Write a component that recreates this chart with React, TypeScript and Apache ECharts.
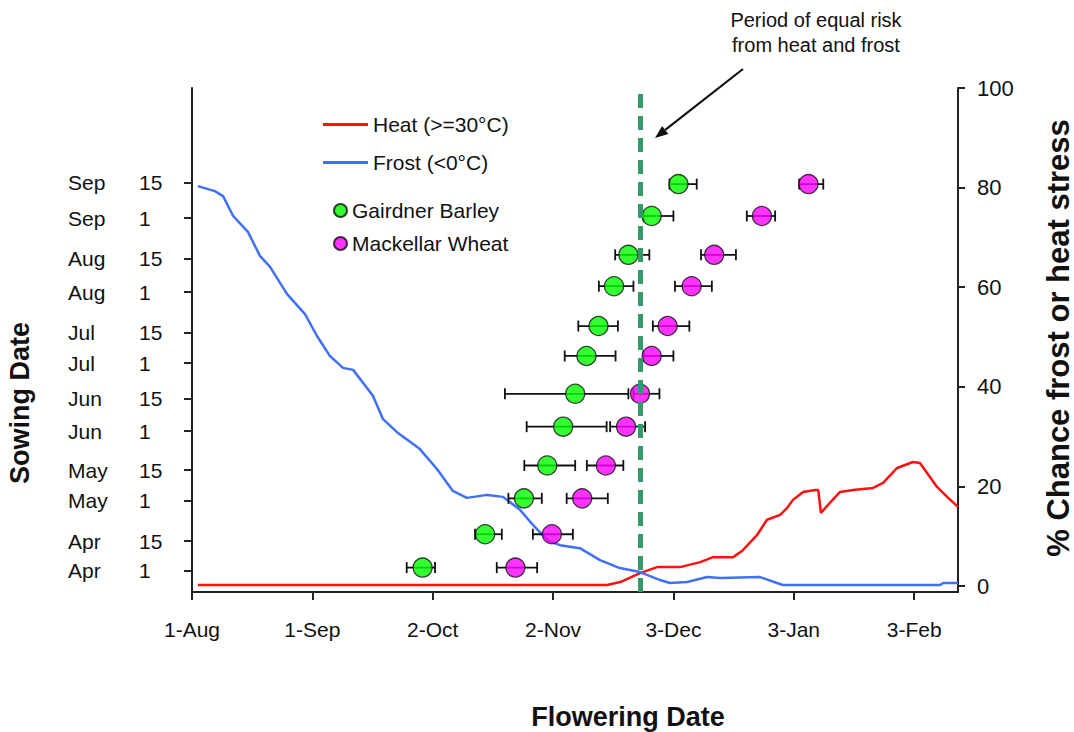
import React, { useEffect, useRef } from "react";
import * as echarts from "echarts";

// ---- x axis (days after 1-Aug) ----
const xTickDays = [0, 31, 62, 93, 124, 155, 186];
const xTickLabels = ["1-Aug", "1-Sep", "2-Oct", "2-Nov", "3-Dec", "3-Jan", "3-Feb"];
const xMaxDay = 197.3;

// ---- left axis: sowing date ticks ----
const sowingMonths = ["Apr", "Apr", "May", "May", "Jun", "Jun", "Jul", "Jul", "Aug", "Aug", "Sep", "Sep"];
const sowingDays = ["1", "15", "1", "15", "1", "15", "1", "15", "1", "15", "1", "15"];
const sowingTicks = [4.2, 10.1, 18.1, 24.2, 31.9, 38.3, 45.4, 51.4, 59.5, 66.1, 74.2, 81.2];

// ---- row position of each sowing date on the right (%) scale ----
const sowingRows = [3.7, 10.4, 17.6, 24.2, 32.0, 38.6, 46.2, 52.2, 60.2, 66.5, 74.3, 80.7];

// ---- flowering dates (days after 1-Aug) ----
const barley = [59.4, 75.5, 85.5, 91.5, 95.6, 98.7, 101.6, 104.7, 108.7, 112.4, 118.4, 125.3];
const barleyLo = [55.3, 72.9, 81.5, 85.6, 86.2, 80.6, 96.0, 99.5, 104.8, 109.0, 116.3, 123.0];
const barleyHi = [62.6, 79.8, 90.1, 98.7, 106.8, 112.4, 109.1, 109.7, 113.7, 117.8, 124.0, 130.0];
const wheat = [83.3, 92.7, 100.5, 106.6, 111.8, 115.4, 118.4, 122.5, 128.7, 134.5, 146.8, 158.8];
const wheatLo = [78.5, 87.8, 96.5, 101.7, 107.7, 113.7, 116.3, 118.7, 124.4, 131.1, 142.9, 156.4];
const wheatHi = [88.9, 98.1, 107.1, 111.1, 116.7, 120.4, 124.0, 128.1, 133.9, 140.1, 150.2, 162.6];

// ---- risk curves ----
const frostDay = [1.5, 5.9, 8.0, 10.6, 14.4, 17.5, 20.1, 24.5, 29.1, 32.2, 35.5, 38.9, 41.5, 46.6, 49.2, 52.8, 58.7, 63.1, 67.2, 70.8, 76.0, 80.1, 84.5, 87.0, 89.6, 92.0, 94.8, 99.9, 105.1, 110.2, 115.4, 120.6, 123.1, 127.5, 132.7, 136.0, 146.3, 150.7, 152.2, 192.7, 193.5, 197.3];
const frostPct = [80.3, 79.3, 78.3, 74.3, 71.1, 66.3, 64.1, 58.6, 54.6, 50.2, 46.2, 43.8, 43.4, 38.2, 33.5, 30.9, 27.5, 23.5, 19.1, 17.7, 18.3, 17.9, 15.3, 13.0, 10.8, 9.0, 8.2, 7.6, 5.2, 3.6, 2.8, 1.2, 0.6, 0.8, 1.8, 1.6, 1.8, 0.6, 0.2, 0.2, 0.6, 0.6];
const heatDay = [1.5, 106.9, 110.3, 115.4, 119.8, 125.7, 130.9, 134.2, 139.4, 141.9, 145.5, 148.1, 151.5, 153.3, 154.8, 157.4, 160.5, 161.3, 162.0, 164.3, 166.9, 170.3, 175.4, 178.0, 181.6, 185.7, 187.5, 191.9, 194.5, 197.3];
const heatPct = [0.2, 0.2, 0.8, 2.6, 3.8, 3.8, 4.8, 5.8, 5.8, 7.2, 10.2, 13.3, 14.3, 15.7, 17.3, 18.9, 19.3, 19.3, 14.7, 16.7, 18.9, 19.3, 19.7, 20.7, 23.7, 24.9, 24.7, 19.9, 17.9, 15.9];

const rightTicks = [0, 20, 40, 60, 80, 100];
const equalRiskDay = 115.4;

const FONT = "'Liberation Sans', Arial, sans-serif";
const INK = "#111";

function errorBarRender(_params: any, api: any) {
  const y = api.value(2);
  const lo = api.coord([api.value(0), y]);
  const hi = api.coord([api.value(1), y]);
  const h = 5.5;
  const style = { stroke: INK, lineWidth: 1.8 };
  return {
    type: "group",
    children: [
      { type: "line", shape: { x1: lo[0], y1: lo[1], x2: hi[0], y2: hi[1] }, style },
      { type: "line", shape: { x1: lo[0], y1: lo[1] - h, x2: lo[0], y2: lo[1] + h }, style },
      { type: "line", shape: { x1: hi[0], y1: hi[1] - h, x2: hi[0], y2: hi[1] + h }, style },
    ],
  };
}

function nearestIndex(arr: number[], v: number) {
  let best = 0;
  for (let i = 1; i < arr.length; i++) if (Math.abs(arr[i] - v) < Math.abs(arr[best] - v)) best = i;
  return best;
}

// arrow head geometry
const arrowStart = [743, 69];
const arrowTip = [655, 138];
function arrowHead() {
  const dx = arrowTip[0] - arrowStart[0];
  const dy = arrowTip[1] - arrowStart[1];
  const len = Math.sqrt(dx * dx + dy * dy);
  const ux = dx / len, uy = dy / len;
  const bx = arrowTip[0] - ux * 13, by = arrowTip[1] - uy * 13;
  const px = -uy * 5, py = ux * 5;
  return [
    [arrowTip[0], arrowTip[1]],
    [bx + px, by + py],
    [bx - px, by - py],
  ];
}

export default function App() {
  const ref = useRef<HTMLDivElement>(null);
  useEffect(() => {
    const chart = echarts.init(ref.current!, null, { renderer: "svg" });
    const head = arrowHead();
    const option: any = {
      animation: false,
      backgroundColor: "#fff",
      textStyle: { fontFamily: FONT, color: INK },
      grid: { left: 192, right: 116, top: 88, bottom: 140, containLabel: false },
      legend: [
        {
          data: ["Heat (>=30°C)", "Frost (<0°C)"],
          orient: "vertical",
          left: 323,
          top: 114,
          padding: 0,
          icon: "rect",
          itemWidth: 45,
          itemHeight: 3,
          itemGap: 17,
          selectedMode: false,
          textStyle: { fontFamily: FONT, fontSize: 21, color: INK },
        },
        {
          data: ["Gairdner Barley", "Mackellar Wheat"],
          orient: "vertical",
          left: 333,
          top: 200,
          padding: 0,
          icon: "circle",
          itemWidth: 13,
          itemHeight: 13,
          itemGap: 12,
          selectedMode: false,
          textStyle: { fontFamily: FONT, fontSize: 21, color: INK },
        },
      ],
      xAxis: {
        type: "value",
        min: 0,
        max: xMaxDay,
        splitLine: { show: false },
        axisLine: { show: true, onZero: false, lineStyle: { color: "#222", width: 2 } },
        axisTick: { show: true, length: 8, lineStyle: { color: "#222", width: 2 }, customValues: xTickDays },
        axisLabel: {
          customValues: xTickDays,
          margin: 27,
          fontSize: 21,
          color: INK,
          fontFamily: FONT,
          formatter: (v: number) => xTickLabels[nearestIndex(xTickDays, v)],
        },
      },
      yAxis: [
        {
          type: "value",
          position: "left",
          min: 0,
          max: 100,
          splitLine: { show: false },
          axisLine: { show: true, onZero: false, lineStyle: { color: "#222", width: 2 } },
          axisTick: { show: true, length: 8, lineStyle: { color: "#222", width: 2 }, customValues: sowingTicks },
          axisLabel: {
            customValues: sowingTicks,
            margin: 26,
            color: INK,
            fontFamily: FONT,
            formatter: (v: number) => {
              const i = nearestIndex(sowingTicks, v);
              return "{m|" + sowingMonths[i] + "}{d|" + sowingDays[i] + "}";
            },
            rich: {
              m: { width: 71, align: "left", fontSize: 21, fontFamily: FONT, color: INK },
              d: { width: 27, align: "left", fontSize: 21, fontFamily: FONT, color: INK },
            },
          },
        },
        {
          type: "value",
          position: "right",
          min: -1.2,
          max: 100,
          splitLine: { show: false },
          axisLine: { show: true, onZero: false, lineStyle: { color: "#222", width: 2 } },
          axisTick: { show: true, length: 7, lineStyle: { color: "#222", width: 2 }, customValues: rightTicks },
          axisLabel: {
            customValues: rightTicks,
            margin: 19,
            fontSize: 22,
            color: INK,
            fontFamily: FONT,
          },
        },
      ],
      series: [
        {
          name: "Heat (>=30°C)",
          type: "line",
          yAxisIndex: 1,
          symbol: "none",
          showSymbol: false,
          z: 2,
          color: "#FF1010",
          lineStyle: { color: "#FF1010", width: 2.5 },
          data: heatDay.map((d, i) => [d, heatPct[i]]),
        },
        {
          name: "Frost (<0°C)",
          type: "line",
          yAxisIndex: 1,
          symbol: "none",
          showSymbol: false,
          z: 2,
          color: "#4070F4",
          lineStyle: { color: "#4070F4", width: 2.5 },
          data: frostDay.map((d, i) => [d, frostPct[i]]),
          markLine: {
            silent: true,
            symbol: ["none", "none"],
            label: { show: false },
            lineStyle: { color: "#349A67", width: 5, type: [14, 8] },
            data: [{ xAxis: equalRiskDay }],
          },
        },
        {
          name: "barleyErr",
          type: "custom",
          yAxisIndex: 1,
          z: 3,
          renderItem: errorBarRender,
          encode: { x: [0, 1], y: 2 },
          data: barleyLo.map((lo, i) => [lo, barleyHi[i], sowingRows[i]]),
        },
        {
          name: "wheatErr",
          type: "custom",
          yAxisIndex: 1,
          z: 3,
          renderItem: errorBarRender,
          encode: { x: [0, 1], y: 2 },
          data: wheatLo.map((lo, i) => [lo, wheatHi[i], sowingRows[i]]),
        },
        {
          name: "Gairdner Barley",
          type: "scatter",
          yAxisIndex: 1,
          z: 4,
          symbol: "circle",
          symbolSize: 19,
          itemStyle: { color: "#00FF00", borderColor: INK, borderWidth: 1.3 },
          data: barley.map((d, i) => [d, sowingRows[i]]),
        },
        {
          name: "Mackellar Wheat",
          type: "scatter",
          yAxisIndex: 1,
          z: 4,
          symbol: "circle",
          symbolSize: 19,
          itemStyle: { color: "#FF00FF", borderColor: INK, borderWidth: 1.3 },
          data: wheat.map((d, i) => [d, sowingRows[i]]),
        },
      ],
      graphic: [
        {
          type: "text",
          x: 816,
          y: 7,
          style: {
            text: "Period of equal risk\nfrom heat and frost",
            fontSize: 20,
            lineHeight: 25,
            fontFamily: FONT,
            fill: INK,
            textAlign: "center",
            textVerticalAlign: "top",
          },
        },
        {
          type: "line",
          shape: { x1: arrowStart[0], y1: arrowStart[1], x2: (head[1][0] + head[2][0]) / 2, y2: (head[1][1] + head[2][1]) / 2 },
          style: { stroke: INK, lineWidth: 2.2 },
        },
        {
          type: "polygon",
          shape: { points: head },
          style: { fill: INK },
        },
        {
          type: "text",
          x: 20,
          y: 403,
          rotation: Math.PI / 2,
          style: {
            text: "Sowing Date",
            fontSize: 27,
            fontWeight: "bold",
            fontFamily: FONT,
            fill: INK,
            textAlign: "center",
            textVerticalAlign: "middle",
          },
        },
        {
          type: "text",
          x: 628,
          y: 717,
          style: {
            text: "Flowering Date",
            fontSize: 27,
            fontWeight: "bold",
            fontFamily: FONT,
            fill: INK,
            textAlign: "center",
            textVerticalAlign: "middle",
          },
        },
        {
          type: "text",
          x: 1058,
          y: 338,
          rotation: Math.PI / 2,
          style: {
            text: "% Chance frost or heat stress",
            fontSize: 31,
            fontWeight: "bold",
            fontFamily: FONT,
            fill: INK,
            textAlign: "center",
            textVerticalAlign: "middle",
          },
        },
      ],
    };
    chart.setOption(option);
    return () => chart.dispose();
  }, []);
  return (
    <div
      ref={ref}
      style={{ position: "fixed", left: 0, top: 0, width: 1074, height: 732 }}
    />
  );
}
